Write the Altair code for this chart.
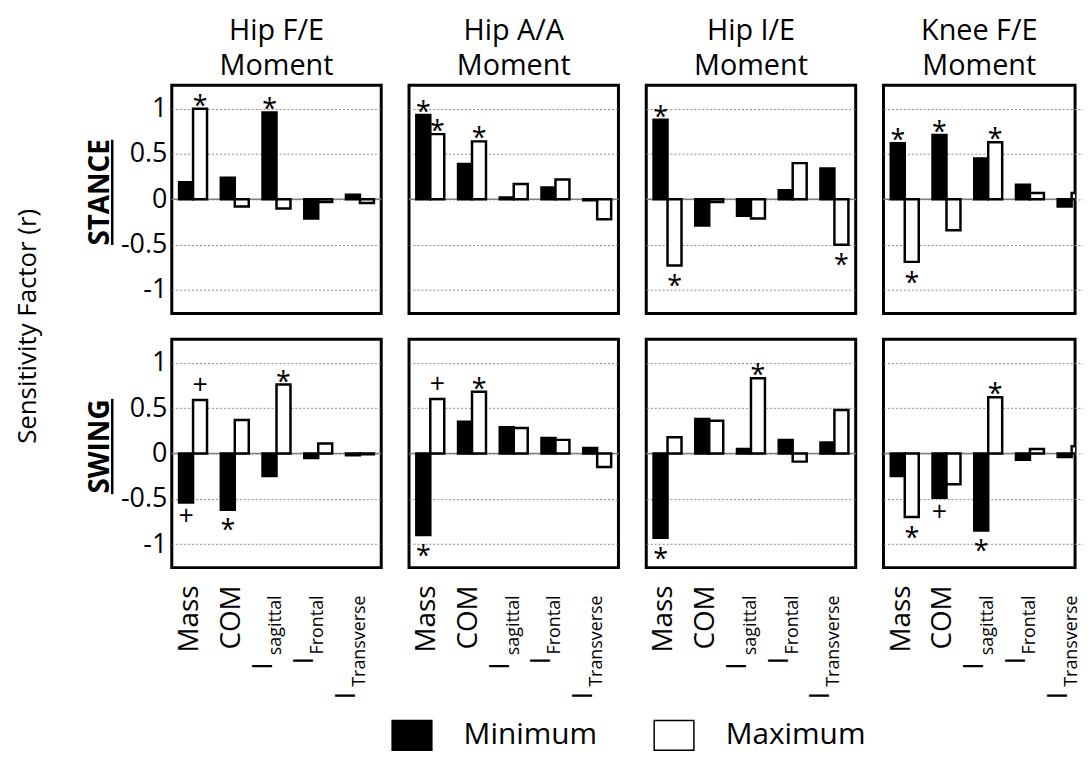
import altair as alt
import pandas as pd

FONT = "Open Sans"

categories = ["Mass", "COM", "I_sagittal", "I_Frontal", "I_Transverse"]
label_main = ["Mass", "COM", "I", "I", "I"]
label_sub = ["", "", "sagittal", "Frontal", "Transverse"]
moments = ["Hip F/E", "Hip A/A", "Hip I/E", "Knee F/E"]
phases = ["STANCE", "SWING"]
series = ["Minimum", "Maximum"]

stance_min = {
    "Hip F/E": [0.19, 0.24, 0.96, -0.21, 0.05],
    "Hip A/A": [0.93, 0.39, 0.02, 0.13, -0.01],
    "Hip I/E": [0.88, -0.29, -0.18, 0.10, 0.34],
    "Knee F/E": [0.62, 0.71, 0.45, 0.16, -0.08],
}
stance_max = {
    "Hip F/E": [1.00, -0.08, -0.10, -0.03, -0.04],
    "Hip A/A": [0.72, 0.64, 0.17, 0.22, -0.22],
    "Hip I/E": [-0.73, -0.03, -0.21, 0.40, -0.50],
    "Knee F/E": [-0.69, -0.34, 0.63, 0.07, 0.07],
}
swing_min = {
    "Hip F/E": [-0.54, -0.62, -0.25, -0.05, -0.02],
    "Hip A/A": [-0.90, 0.35, 0.29, 0.17, 0.06],
    "Hip I/E": [-0.93, 0.38, 0.05, 0.15, 0.12],
    "Knee F/E": [-0.25, -0.49, -0.85, -0.07, -0.04],
}
swing_max = {
    "Hip F/E": [0.59, 0.37, 0.76, 0.11, -0.01],
    "Hip A/A": [0.60, 0.68, 0.28, 0.15, -0.15],
    "Hip I/E": [0.18, 0.36, 0.83, -0.09, 0.48],
    "Knee F/E": [-0.70, -0.34, 0.62, 0.05, 0.08],
}

# significance markers: (phase, moment, category, series, symbol)
markers = [
    ("STANCE", "Hip F/E", "Mass", "Maximum", "*"),
    ("STANCE", "Hip F/E", "I_sagittal", "Minimum", "*"),
    ("STANCE", "Hip A/A", "Mass", "Minimum", "*"),
    ("STANCE", "Hip A/A", "Mass", "Maximum", "*"),
    ("STANCE", "Hip A/A", "COM", "Maximum", "*"),
    ("STANCE", "Hip I/E", "Mass", "Minimum", "*"),
    ("STANCE", "Hip I/E", "Mass", "Maximum", "*"),
    ("STANCE", "Hip I/E", "I_Transverse", "Maximum", "*"),
    ("STANCE", "Knee F/E", "Mass", "Minimum", "*"),
    ("STANCE", "Knee F/E", "Mass", "Maximum", "*"),
    ("STANCE", "Knee F/E", "COM", "Minimum", "*"),
    ("STANCE", "Knee F/E", "I_sagittal", "Maximum", "*"),
    ("SWING", "Hip F/E", "Mass", "Minimum", "+"),
    ("SWING", "Hip F/E", "Mass", "Maximum", "+"),
    ("SWING", "Hip F/E", "COM", "Minimum", "*"),
    ("SWING", "Hip F/E", "I_sagittal", "Maximum", "*"),
    ("SWING", "Hip A/A", "Mass", "Minimum", "*"),
    ("SWING", "Hip A/A", "Mass", "Maximum", "+"),
    ("SWING", "Hip A/A", "COM", "Maximum", "*"),
    ("SWING", "Hip I/E", "Mass", "Minimum", "*"),
    ("SWING", "Hip I/E", "I_sagittal", "Maximum", "*"),
    ("SWING", "Knee F/E", "Mass", "Maximum", "*"),
    ("SWING", "Knee F/E", "COM", "Minimum", "+"),
    ("SWING", "Knee F/E", "I_sagittal", "Minimum", "*"),
    ("SWING", "Knee F/E", "I_sagittal", "Maximum", "*"),
]

sig_lookup = {(p, m, c, s): sym for p, m, c, s, sym in markers}
rows = []
for phase, mins, maxs in [("STANCE", stance_min, stance_max), ("SWING", swing_min, swing_max)]:
    for m in moments:
        for i, cat in enumerate(categories):
            for s, vals in [("Minimum", mins), ("Maximum", maxs)]:
                rows.append({
                    "phase": phase, "moment": m, "category": cat, "type": s,
                    "value": vals[m][i], "sig": sig_lookup.get((phase, m, cat, s), ""),
                })
df = pd.DataFrame(rows)
labels_df = pd.DataFrame({"category": categories, "main": label_main, "sub": label_sub})

W, H = 211, 230
W_LAST = 193  # the right-most column is cut by the page edge, as in the original figure

fill_enc = alt.Fill(
    "type:N",
    scale=alt.Scale(domain=series, range=["black", "white"]),
    legend=alt.Legend(
        title=None, orient="none", legendX=221, legendY=634, direction="horizontal",
        symbolType="M-1,-0.75H1V0.75H-1Z", symbolSize=1600, symbolStrokeColor="black",
        symbolStrokeWidth=1.5, labelFontSize=30, labelFont=FONT, labelColor="black",
        labelOffset=31, columnPadding=54,
    ),
)


def y_axis(show_labels):
    return alt.Axis(
        values=[-1, -0.5, 0, 0.5, 1], grid=True, gridDash=[2, 2], gridColor="#8a8a8a",
        gridWidth=1, ticks=False, domain=False, labels=show_labels, labelFontSize=27,
        labelFont=FONT, labelColor="black", labelPadding=5, labelExpr="'' + datum.value",
        title=None,
    )


def make_panel(r, c):
    phase, moment = phases[r], moments[c]
    last = c == 3
    d = df[(df.phase == phase) & (df.moment == moment)]
    base = alt.Chart(d)
    sc = dict(domain=categories, paddingInner=0.33, paddingOuter=0.175)
    if last:
        sc["range"] = [0, W]
    x_scale = alt.Scale(**sc)
    xenc = alt.X("category:N", scale=x_scale, axis=None)
    xo = alt.XOffset("type:N", scale=alt.Scale(domain=series))
    yenc = alt.Y("value:Q", scale=alt.Scale(domain=[-1.26, 1.26], nice=False), axis=y_axis(c == 0))

    zero = alt.Chart(pd.DataFrame({"value": [0.0]})).mark_rule(
        color="#808080", strokeWidth=1.5).encode(y=yenc)
    bars = base.mark_bar(stroke="black", strokeWidth=2.5, clip=True).encode(
        x=xenc, xOffset=xo, y=yenc, fill=fill_enc)
    layers = [zero, bars]
    for sym, cmp, dy in [("*", ">=", -2), ("*", "<", 22), ("+", ">=", -14), ("+", "<", 15)]:
        layers.append(
            base.transform_filter(f"datum.sig == '{sym}' && datum.value {cmp} 0")
            .mark_text(fontSize=27, baseline="middle", dy=dy, color="black", font=FONT)
            .encode(x=xenc, xOffset=xo, y=yenc, text="sig:N")
        )
    if c == 0:
        ph = alt.Chart(pd.DataFrame({"t": [phase]}))
        layers.append(ph.mark_text(angle=270, align="center", baseline="alphabetic", fontSize=28,
                                   fontWeight="bold", font=FONT, color="black")
                      .encode(x=alt.value(-63), y=alt.value(108), text="t:N"))
        half = 53 if phase == "STANCE" else 48
        layers.append(ph.mark_rule(color="black", strokeWidth=2.5)
                      .encode(x=alt.value(-60), y=alt.value(108 - half), y2=alt.value(108 + half)))
        if r == 0:
            layers.append(
                alt.Chart(pd.DataFrame({"t": ["Sensitivity Factor (r)"]}))
                .mark_text(angle=270, align="center", baseline="middle", fontSize=26, font=FONT,
                           color="black")
                .encode(x=alt.value(-145), y=alt.value(H + 13), text="t:N"))
    core = alt.layer(*layers)

    if r == 1:
        lab = alt.Chart(labels_df)
        lx = alt.X("category:N", scale=x_scale, axis=None)
        big = lab.transform_filter("datum.sub == ''").mark_text(
            angle=270, align="right", baseline="alphabetic", fontSize=28, dy=5, font=FONT,
            color="black").encode(x=lx, y=alt.value(248), text="main:N")
        sub = lab.transform_filter("datum.sub != ''").mark_text(
            angle=270, align="right", baseline="alphabetic", fontSize=18, dy=5, font=FONT,
            color="black").encode(x=lx, y=alt.value(258), text="sub:N")
        eye = lab.transform_filter("datum.sub != ''").transform_calculate(
            ypix="270 + 10.2*length(datum.sub) - 4.6*length(replace(datum.sub, regexp('[^iltfrj]', 'g'), ''))"
        ).mark_text(angle=270, align="left", baseline="alphabetic", fontSize=28, dy=-5,
                    font=FONT, color="black").encode(
            x=lx, y=alt.Y("ypix:Q", scale=None, axis=None), text="main:N")
        panel = alt.layer(core, big, sub, eye).resolve_scale(y="independent")
    else:
        panel = core

    props = dict(width=W_LAST if last else W, height=H)
    if r == 0:
        props["title"] = alt.TitleParams(
            text=[moment, "Moment"], fontSize=29, font=FONT, fontWeight="normal",
            color="black", offset=4, lineHeight=36, anchor="middle")
    return panel.properties(**props)


panels = [make_panel(r, c) for r in range(2) for c in range(4)]

chart = (
    alt.concat(*panels, columns=4, spacing={"row": 26, "column": 28}, bounds="flush",
               padding={"top": 4, "left": 5, "right": 0, "bottom": 0})
    .resolve_scale(fill="shared")
    .configure_view(stroke="black", strokeWidth=3)
    .configure_text(font=FONT)
)

chart.save("out.html", embed_options={"renderer": "svg", "actions": False})
